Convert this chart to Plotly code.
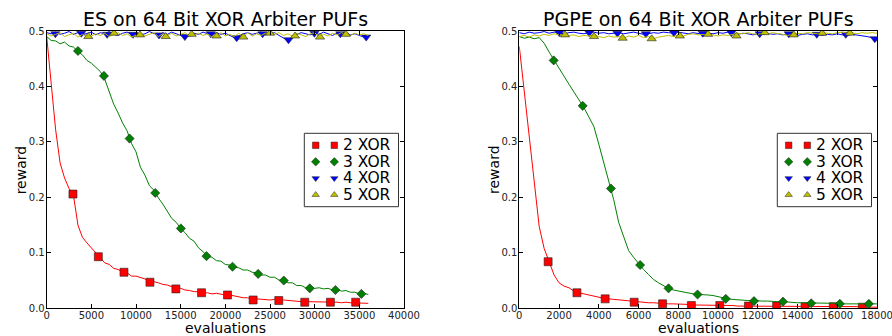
import plotly.graph_objects as go

W, H = 892, 336

# ---------------- data ----------------
series_labels = ["2 XOR", "3 XOR", "4 XOR", "5 XOR"]

es_title = "ES on 64 Bit XOR Arbiter PUFs"
pgpe_title = "PGPE on 64 Bit XOR Arbiter PUFs"

es_xticks = [0, 5000, 10000, 15000, 20000, 25000, 30000, 35000, 40000]
pgpe_xticks = [0, 2000, 4000, 6000, 8000, 10000, 12000, 14000, 16000, 18000]
y_ticks = [0.0, 0.1, 0.2, 0.3, 0.4, 0.5]
y_ticktext = ["0.0", "0.1", "0.2", "0.3", "0.4", "0.5"]

# ES: sampled every 500 evaluations, 0..36000
es_evals = list(range(0, 36001, 500))
es_2xor = [0.490, 0.405, 0.322, 0.262, 0.235, 0.216, 0.203, 0.150, 0.128, 0.118,
           0.109, 0.098, 0.090, 0.082, 0.079, 0.072, 0.070, 0.065, 0.064, 0.058,
           0.058, 0.055, 0.053, 0.048, 0.048, 0.046, 0.043, 0.042, 0.039, 0.036,
           0.036, 0.033, 0.032, 0.030, 0.030, 0.027, 0.028, 0.026, 0.027, 0.025,
           0.024, 0.024, 0.022, 0.021, 0.019, 0.019, 0.016, 0.017, 0.016, 0.016,
           0.015, 0.016, 0.014, 0.015, 0.014, 0.013, 0.013, 0.012, 0.012, 0.012,
           0.012, 0.011, 0.012, 0.011, 0.011, 0.011, 0.010, 0.011, 0.010, 0.010,
           0.010, 0.009, 0.009]
es_3xor = [0.490, 0.483, 0.482, 0.477, 0.480, 0.473, 0.471, 0.463, 0.457, 0.447,
           0.442, 0.435, 0.427, 0.413, 0.392, 0.368, 0.352, 0.334, 0.320, 0.297,
           0.282, 0.254, 0.240, 0.221, 0.213, 0.199, 0.188, 0.176, 0.162, 0.155,
           0.144, 0.136, 0.126, 0.121, 0.109, 0.102, 0.094, 0.092, 0.086, 0.085,
           0.079, 0.078, 0.074, 0.073, 0.069, 0.069, 0.065, 0.064, 0.060, 0.060,
           0.056, 0.056, 0.051, 0.050, 0.046, 0.046, 0.041, 0.041, 0.037, 0.038,
           0.036, 0.037, 0.035, 0.036, 0.033, 0.034, 0.031, 0.032, 0.029, 0.029,
           0.026, 0.027, 0.025]
es_4xor = [0.497, 0.495, 0.498, 0.494, 0.496, 0.499, 0.494, 0.497, 0.493, 0.496,
           0.498, 0.493, 0.497, 0.495, 0.499, 0.494, 0.492, 0.496, 0.498, 0.494,
           0.497, 0.493, 0.495, 0.499, 0.496, 0.492, 0.497, 0.494, 0.498, 0.495,
           0.493, 0.489, 0.491, 0.496, 0.494, 0.498, 0.495, 0.493, 0.497, 0.494,
           0.496, 0.492, 0.488, 0.491, 0.495, 0.497, 0.494, 0.496, 0.498, 0.493,
           0.495, 0.497, 0.492, 0.488, 0.483, 0.489, 0.494, 0.497, 0.495, 0.493,
           0.496, 0.494, 0.498, 0.495, 0.492, 0.496, 0.494, 0.497, 0.493, 0.495,
           0.492, 0.489, 0.491]
es_5xor = [0.495, 0.491, 0.494, 0.497, 0.490, 0.493, 0.496, 0.489, 0.494, 0.490,
           0.491, 0.495, 0.492, 0.496, 0.490, 0.494, 0.497, 0.492, 0.495, 0.489,
           0.493, 0.496, 0.491, 0.494, 0.497, 0.490, 0.495, 0.492, 0.496, 0.491,
           0.494, 0.497, 0.490, 0.493, 0.496, 0.492, 0.495, 0.489, 0.491, 0.497,
           0.491, 0.494, 0.490, 0.496, 0.489, 0.497, 0.491, 0.495, 0.492, 0.496,
           0.495, 0.494, 0.497, 0.492, 0.495, 0.491, 0.496, 0.493, 0.490, 0.495,
           0.497, 0.489, 0.494, 0.491, 0.496, 0.493, 0.497, 0.494, 0.492, 0.496,
           0.493, 0.495, 0.492]

es_2xor_mx = [2940, 5780, 8650, 11560, 14460, 17330, 20240, 23110, 25980, 28890, 31760, 34590]
es_2xor_my = [0.206, 0.093, 0.065, 0.047, 0.035, 0.028, 0.024, 0.015, 0.014, 0.011, 0.011, 0.011]
es_3xor_mx = [3500, 6410, 9280, 12150, 15020, 17890, 20800, 23670, 26540, 29450, 32320, 35230]
es_3xor_my = [0.464, 0.419, 0.306, 0.208, 0.144, 0.094, 0.075, 0.062, 0.050, 0.036, 0.033, 0.026]
es_4xor_mx = [970, 3870, 6770, 9670, 12570, 15470, 18370, 21270, 24170, 27070, 29970, 32870, 35770]
es_4xor_my = [0.495, 0.496, 0.494, 0.494, 0.493, 0.490, 0.495, 0.488, 0.495, 0.484, 0.496, 0.495, 0.489]
es_5xor_mx = [4660, 7530, 10440, 13320, 16230, 19030, 22010, 25000, 27800, 30600, 33500]
es_5xor_my = [0.490, 0.496, 0.493, 0.490, 0.494, 0.491, 0.489, 0.496, 0.491, 0.489, 0.494]

# PGPE: sampled every 250 evaluations, 0..18000
pgpe_evals = list(range(0, 18001, 250))
pgpe_2xor = [0.472, 0.390, 0.312, 0.232, 0.148, 0.108, 0.083, 0.060, 0.046, 0.040,
             0.037, 0.031, 0.028, 0.026, 0.024, 0.021, 0.019, 0.018, 0.017, 0.016,
             0.015, 0.014, 0.013, 0.012, 0.012, 0.011, 0.010, 0.010, 0.009, 0.009,
             0.008, 0.008, 0.008, 0.007, 0.007, 0.006, 0.006, 0.006, 0.006, 0.005,
             0.005, 0.005, 0.005, 0.005, 0.004, 0.004, 0.004, 0.004, 0.004, 0.004,
             0.004, 0.004, 0.004, 0.003, 0.003, 0.003, 0.003, 0.003, 0.003, 0.003,
             0.003, 0.003, 0.003, 0.003, 0.003, 0.003, 0.003, 0.003, 0.003, 0.002,
             0.002, 0.002, 0.002]
pgpe_3xor = [0.490, 0.487, 0.489, 0.486, 0.488, 0.478, 0.462, 0.447, 0.433, 0.418,
             0.404, 0.390, 0.376, 0.362, 0.345, 0.328, 0.296, 0.262, 0.228, 0.196,
             0.155, 0.128, 0.104, 0.092, 0.080, 0.070, 0.061, 0.052, 0.046, 0.041,
             0.036, 0.033, 0.031, 0.029, 0.027, 0.026, 0.025, 0.025, 0.024, 0.023,
             0.021, 0.018, 0.017, 0.016, 0.015, 0.015, 0.014, 0.014, 0.013, 0.013,
             0.013, 0.012, 0.012, 0.012, 0.011, 0.011, 0.010, 0.010, 0.010, 0.010,
             0.009, 0.009, 0.009, 0.009, 0.008, 0.008, 0.008, 0.008, 0.008, 0.008,
             0.008, 0.008, 0.008]
pgpe_4xor = [0.497, 0.495, 0.498, 0.496, 0.497, 0.499, 0.496, 0.498, 0.497, 0.495,
             0.497, 0.498, 0.496, 0.495, 0.497, 0.498, 0.496, 0.497, 0.495, 0.496,
             0.497, 0.495, 0.496, 0.498, 0.496, 0.494, 0.495, 0.497, 0.496, 0.498,
             0.497, 0.496, 0.498, 0.496, 0.495, 0.497, 0.496, 0.494, 0.496, 0.495,
             0.497, 0.496, 0.498, 0.495, 0.494, 0.496, 0.495, 0.493, 0.495, 0.494,
             0.496, 0.494, 0.495, 0.493, 0.495, 0.494, 0.492, 0.494, 0.495, 0.493,
             0.494, 0.492, 0.494, 0.493, 0.495, 0.493, 0.492, 0.494, 0.493, 0.491,
             0.490, 0.488, 0.487]
pgpe_5xor = [0.490, 0.492, 0.489, 0.493, 0.491, 0.494, 0.492, 0.495, 0.493, 0.494,
             0.492, 0.493, 0.490, 0.492, 0.491, 0.493, 0.490, 0.488, 0.491, 0.489,
             0.490, 0.487, 0.491, 0.489, 0.492, 0.488, 0.490, 0.486, 0.489, 0.491,
             0.492, 0.490, 0.493, 0.491, 0.494, 0.495, 0.493, 0.494, 0.492, 0.493,
             0.491, 0.493, 0.492, 0.494, 0.496, 0.495, 0.497, 0.495, 0.494, 0.496,
             0.495, 0.497, 0.496, 0.494, 0.492, 0.494, 0.496, 0.495, 0.497, 0.496,
             0.495, 0.497, 0.496, 0.495, 0.497, 0.498, 0.496, 0.497, 0.495, 0.497,
             0.496, 0.497, 0.496]

pgpe_2xor_mx = [1450, 2900, 4320, 5780, 7210, 8660, 10090, 11530, 12950, 14380, 15800, 17260]
pgpe_2xor_my = [0.084, 0.028, 0.017, 0.011, 0.008, 0.005, 0.005, 0.004, 0.004, 0.003, 0.003, 0.002]
pgpe_3xor_mx = [1730, 3190, 4610, 6080, 7510, 8970, 10390, 11810, 13270, 14690, 16130, 17590]
pgpe_3xor_my = [0.447, 0.365, 0.216, 0.078, 0.036, 0.025, 0.017, 0.013, 0.012, 0.009, 0.008, 0.008]
pgpe_4xor_mx = [2010, 3520, 4940, 6370, 7780, 9230, 10670, 12100, 13560, 14970, 16430, 17890]
pgpe_4xor_my = [0.497, 0.497, 0.496, 0.495, 0.497, 0.496, 0.497, 0.495, 0.495, 0.494, 0.494, 0.486]
pgpe_5xor_mx = [2300, 3760, 5200, 6660, 8080, 9500, 10930, 12350, 13810, 15240, 16630]
pgpe_5xor_my = [0.493, 0.490, 0.487, 0.486, 0.491, 0.494, 0.491, 0.497, 0.493, 0.496, 0.496]

# ---------------- styling ----------------
FONT = "DejaVu Sans"
colors = ["#ff0000", "#008000", "#0000ff", "#bfbf00"]
symbols = ["square", "diamond", "triangle-down", "triangle-up"]
msizes = [8, 7, 8, 8]


def px(x):
    return x / W


def py(y):
    return 1 - y / H


# plot-area pixel boxes (left, right, top, bottom)
boxes = [(46.7, 404.0, 31.0, 308.3), (519.3, 877.0, 31.0, 308.3)]

panels = [
    dict(title=es_title, evals=es_evals, xticks=es_xticks, xmax=40000,
         lines=[es_2xor, es_3xor, es_4xor, es_5xor],
         marks=[(es_2xor_mx, es_2xor_my), (es_3xor_mx, es_3xor_my),
                (es_4xor_mx, es_4xor_my), (es_5xor_mx, es_5xor_my)]),
    dict(title=pgpe_title, evals=pgpe_evals, xticks=pgpe_xticks, xmax=18000,
         lines=[pgpe_2xor, pgpe_3xor, pgpe_4xor, pgpe_5xor],
         marks=[(pgpe_2xor_mx, pgpe_2xor_my), (pgpe_3xor_mx, pgpe_3xor_my),
                (pgpe_4xor_mx, pgpe_4xor_my), (pgpe_5xor_mx, pgpe_5xor_my)]),
]

fig = go.Figure()
layout = dict(
    template="none",
    width=W, height=H, margin=dict(l=0, r=0, t=0, b=0, pad=0, autoexpand=False),
    paper_bgcolor="white", plot_bgcolor="rgba(0,0,0,0)",
    showlegend=False, font=dict(family=FONT, color="black"),
    annotations=[], shapes=[],
)

axis_common = dict(showline=True, linecolor="black", linewidth=1, mirror="ticks",
                   ticks="inside", ticklen=4, tickwidth=1, tickcolor="black",
                   showgrid=False, zeroline=False, automargin=False,
                   tickfont=dict(family=FONT, size=10, color="#222"))

leg_x_marks = []
leg_y_marks = []
leg_colors = []
leg_symbols = []

for k, p in enumerate(panels):
    xl, xr, yt, yb = boxes[k]
    xa = "x" if k == 0 else "x2"
    ya = "y" if k == 0 else "y2"
    xkey = "xaxis" if k == 0 else "xaxis2"
    ykey = "yaxis" if k == 0 else "yaxis2"
    layout[xkey] = dict(axis_common, domain=[px(xl), px(xr)], range=[0, p["xmax"]],
                        tickvals=p["xticks"], ticktext=[str(t) for t in p["xticks"]],
                        anchor=ya, ticklabeloverflow="allow", ticklabelstandoff=-2)
    layout[ykey] = dict(axis_common, domain=[py(yb), py(yt)], range=[0, 0.5],
                        tickvals=y_ticks, ticktext=y_ticktext, anchor=xa,
                        ticklabelstandoff=-1)

    for i in range(4):
        fig.add_trace(go.Scatter(x=p["evals"], y=p["lines"][i], mode="lines",
                                 line=dict(color=colors[i], width=1),
                                 xaxis=xa, yaxis=ya, hoverinfo="skip"))
        mx, my = p["marks"][i]
        fig.add_trace(go.Scatter(x=mx, y=my, mode="markers",
                                 marker=dict(color=colors[i], symbol=symbols[i], size=msizes[i],
                                             line=dict(color="#222", width=0.6)),
                                 xaxis=xa, yaxis=ya, name=series_labels[i], hoverinfo="skip"))

    cx = (xl + xr) / 2
    # title
    layout["annotations"].append(dict(text=p["title"], x=px(cx), y=py(18.5), xref="paper", yref="paper",
                                      xanchor="center", yanchor="middle", showarrow=False,
                                      font=dict(family=FONT, size=19, color="black")))
    # x label
    layout["annotations"].append(dict(text="evaluations", x=px(cx), y=py(328), xref="paper", yref="paper",
                                      xanchor="center", yanchor="middle", showarrow=False,
                                      font=dict(family=FONT, size=14, color="black")))
    # y label
    layout["annotations"].append(dict(text="reward", x=px(xl - 26), y=py((yt + yb) / 2),
                                      xref="paper", yref="paper", textangle=-90,
                                      xanchor="center", yanchor="middle", showarrow=False,
                                      font=dict(family=FONT, size=14, color="black")))

    # legend box (custom, matplotlib-style with two markers per entry)
    lx1 = xr - 5.5
    lx0 = lx1 - 94.2
    ly0 = 133.3
    ly1 = 206.7
    layout["shapes"].append(dict(type="rect", xref="paper", yref="paper",
                                 x0=px(lx0), x1=px(lx1), y0=py(ly1), y1=py(ly0),
                                 line=dict(color="#333", width=1), fillcolor="white", layer="below"))
    for i, lab in enumerate(series_labels):
        rowy = ly0 + 12.0 + i * 16.5
        layout["annotations"].append(dict(text=lab, x=px(lx0 + 36.5), y=py(rowy), xref="paper", yref="paper",
                                          xanchor="left", yanchor="middle", showarrow=False,
                                          font=dict(family=FONT, size=15.5, color="black")))
        for off in (11.4, 30.0):
            leg_x_marks.append(lx0 + off)
            leg_y_marks.append(rowy)
            leg_colors.append(colors[i])
            leg_symbols.append(symbols[i])

# overlay axes in pixel units for the legend symbols
layout["xaxis3"] = dict(domain=[0, 1], range=[0, W], visible=False, anchor="y3", fixedrange=True)
layout["yaxis3"] = dict(domain=[0, 1], range=[H, 0], visible=False, anchor="x3", fixedrange=True)
fig.add_trace(go.Scatter(x=leg_x_marks, y=leg_y_marks, mode="markers", xaxis="x3", yaxis="y3",
                         marker=dict(color=leg_colors, symbol=leg_symbols, size=6.5,
                                     line=dict(color="#222", width=0.5)),
                         hoverinfo="skip", cliponaxis=False))

fig.update_layout(**layout)
fig.write_html("out.html", config={"displayModeBar": False, "staticPlot": True},
               post_script="document.body.style.margin='0';document.body.style.overflow='hidden';")
